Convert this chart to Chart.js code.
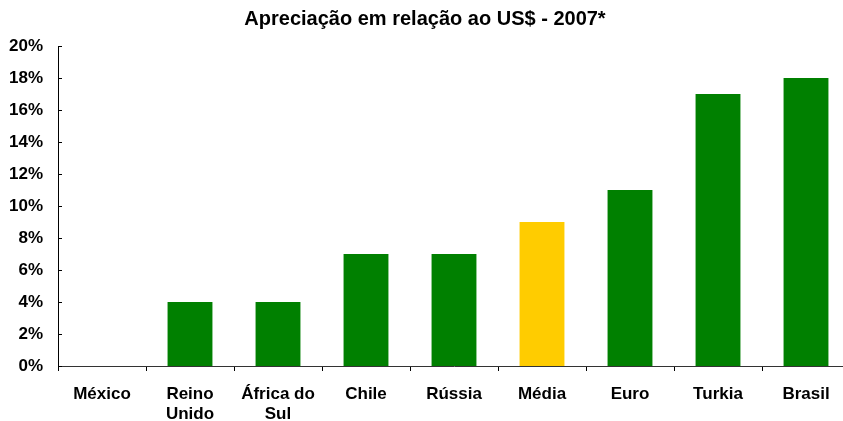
<!DOCTYPE html>
<html lang="pt">
<head>
    <meta charset="UTF-8">
    <title>Apreciação em relação ao US$ - 2007*</title>
    <script src="https://cdn.jsdelivr.net/npm/chart.js@4/dist/chart.umd.min.js"></script>
    <style>
        html, body { margin: 0; padding: 0; background: #fff; overflow: hidden; }
        #wrap { width: 850px; height: 421px; }
    </style>
</head>
<body>
    <div id="wrap"><canvas id="chart" width="850" height="421"></canvas></div>

    <script>
        const categories = [['México'], ['Reino', 'Unido'], ['África do', 'Sul'], ['Chile'], ['Rússia'], ['Média'], ['Euro'], ['Turkia'], ['Brasil']];
        const values = [0, 4, 4, 7, 7, 9, 11, 17, 18];
        const barColors = ['#008000', '#008000', '#008000', '#008000', '#008000', '#FFCC00', '#008000', '#008000', '#008000'];
        const yTicks = [0, 2, 4, 6, 8, 10, 12, 14, 16, 18, 20];

        const fontFamily = '"Liberation Sans", Arial, sans-serif';

        // small inward tick marks on the y axis, like the original
        const innerTicks = {
            id: 'innerTicks',
            afterDraw(chart) {
                const y = chart.scales.y;
                const ctx = chart.ctx;
                ctx.save();
                ctx.strokeStyle = '#000';
                ctx.lineWidth = 1;
                yTicks.forEach(v => {
                    const py = Math.round(y.getPixelForValue(v)) + 0.5;
                    ctx.beginPath();
                    ctx.moveTo(y.right, py);
                    ctx.lineTo(y.right + 4, py);
                    ctx.stroke();
                });
                ctx.restore();
            }
        };

        new Chart(document.getElementById('chart'), {
            type: 'bar',
            data: {
                labels: categories,
                datasets: [{
                    data: values,
                    backgroundColor: barColors,
                    borderWidth: 0,
                    barPercentage: 0.51,
                    categoryPercentage: 1
                }]
            },
            options: {
                responsive: false,
                animation: false,
                layout: { padding: 0 },
                plugins: {
                    legend: { display: false },
                    tooltip: { enabled: false },
                    title: {
                        display: true,
                        text: 'Apreciação em relação ao US$ - 2007*',
                        color: '#000',
                        font: { family: fontFamily, size: 20, weight: 'bold', lineHeight: 1.2 },
                        padding: { top: 7, bottom: 15 }
                    }
                },
                scales: {
                    x: {
                        grid: {
                            display: true,
                            drawOnChartArea: false,
                            tickLength: 5,
                            tickColor: '#000'
                        },
                        border: { display: true, color: '#333', width: 1 },
                        ticks: {
                            color: '#000',
                            padding: 13,
                            maxRotation: 0,
                            autoSkip: false,
                            font: { family: fontFamily, size: 17, weight: 'bold', lineHeight: 1.2 }
                        },
                        afterFit(scale) { scale.height = 55; }
                    },
                    y: {
                        min: 0,
                        max: 20,
                        grid: { display: false, drawTicks: false },
                        border: { display: true, color: '#000', width: 1 },
                        afterBuildTicks(scale) { scale.ticks = yTicks.map(v => ({ value: v })); },
                        ticks: {
                            color: '#000',
                            padding: 15,
                            callback: v => v + '%',
                            font: { family: fontFamily, size: 17, weight: 'bold' }
                        },
                        afterFit(scale) { scale.width = 58; }
                    }
                }
            },
            plugins: [innerTicks]
        });
    </script>
</body>
</html>
